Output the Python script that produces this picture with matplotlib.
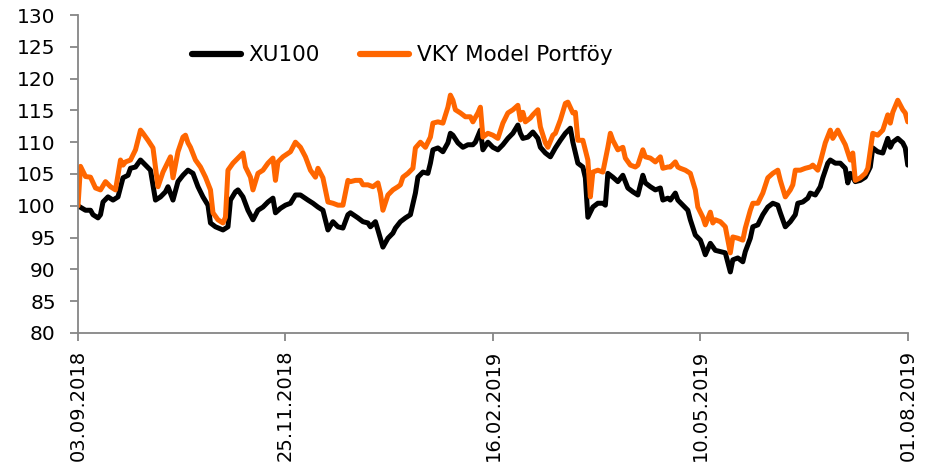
import datetime as dt
import matplotlib
matplotlib.use("Agg")
import matplotlib.pyplot as plt

start_date = dt.date(2018, 9, 3)
tick_dates = ["03.09.2018", "25.11.2018", "16.02.2019", "10.05.2019", "01.08.2019"]
y_ticks = [80, 85, 90, 95, 100, 105, 110, 115, 120, 125, 130]

# XU100 (days since 03.09.2018, index value)
xu_days = [0, 3, 5, 6, 8, 9, 10, 12, 14, 16, 18, 20, 21, 23, 25, 27, 29, 31, 33, 35,
           36, 38, 40, 42, 44, 46, 48, 50, 52, 53, 55, 58, 60, 61, 63, 64, 66, 68, 70, 72,
           74, 76, 78, 79, 81, 83, 85, 87, 89, 92, 94, 96, 98, 100, 102, 104, 106, 108, 109, 112,
           114, 116, 117, 119, 120, 122, 124, 126, 127, 129, 131, 133, 135, 136, 138, 140, 141, 142, 144, 146,
           148, 149, 150, 152, 154, 156, 158, 159, 161, 162, 164, 166, 168, 170, 172, 174, 176, 177, 178, 180,
           182, 184, 185, 187, 189, 191, 193, 195, 197, 198, 200, 202, 203, 204, 206, 208, 210, 211, 212, 214,
           216, 218, 220, 222, 224, 226, 227, 229, 231, 233, 234, 236, 237, 239, 240, 242, 244, 245, 247, 249,
           250, 251, 253, 255, 257, 259, 261, 262, 264, 266, 267, 269, 270, 272, 274, 276, 278, 280, 281, 283,
           285, 287, 288, 290, 292, 293, 295, 297, 298, 300, 301, 303, 305, 307, 308, 309, 311, 313, 315, 317,
           318, 320, 322, 324, 325, 326, 328, 330, 331, 332]
xu_vals = [100.0, 99.3, 99.3, 98.6, 98.1, 98.6, 100.6, 101.4, 100.9, 101.4, 104.4, 104.8, 105.9, 106.1, 107.2, 106.4, 105.6, 100.9, 101.4, 102.2,
           103.0, 100.9, 103.8, 104.8, 105.6, 105.1, 103.0, 101.4, 100.1, 97.3, 96.7, 96.2, 96.7, 100.9, 102.2, 102.5, 101.4, 99.3, 97.8, 99.3,
           99.8, 100.6, 101.2, 98.9, 99.6, 100.1, 100.4, 101.7, 101.7, 100.9, 100.4, 99.8, 99.3, 96.2, 97.5, 96.7, 96.5, 98.6, 98.9, 98.1,
           97.5, 97.3, 96.7, 97.5, 96.2, 93.5, 94.9, 95.7, 96.5, 97.5, 98.1, 98.6, 102.0, 104.5, 105.3, 105.1, 106.7, 108.8, 109.1, 108.5,
           109.9, 111.4, 111.1, 109.9, 109.2, 109.6, 109.6, 110.0, 111.9, 108.8, 110.0, 109.2, 108.8, 109.6, 110.6, 111.4, 112.7, 111.4, 110.6, 110.8,
           111.6, 110.6, 109.2, 108.3, 107.7, 109.1, 110.3, 111.4, 112.2, 110.0, 106.7, 106.1, 104.4, 98.2, 99.8, 100.4, 100.4, 100.1, 105.1, 104.5,
           103.8, 104.8, 102.8, 102.2, 101.7, 104.8, 103.6, 103.0, 102.5, 102.8, 100.9, 101.2, 100.9, 102.0, 100.9, 100.1, 99.3, 97.8, 95.4, 94.6,
           93.5, 92.3, 94.1, 93.0, 92.8, 92.6, 89.6, 91.5, 91.8, 91.2, 92.8, 94.9, 96.7, 97.0, 98.6, 99.8, 100.4, 100.1, 98.9, 96.7,
           97.5, 98.6, 100.4, 100.6, 101.2, 102.0, 101.7, 103.0, 104.4, 106.7, 107.2, 106.7, 106.7, 105.9, 103.6, 105.1, 103.8, 104.0, 104.5, 106.1,
           109.1, 108.5, 108.3, 110.6, 109.2, 110.0, 110.6, 109.9, 109.1, 106.4]

# VKY Model Portföy (days since 03.09.2018, index value)
vky_days = [0, 1, 3, 5, 7, 9, 11, 13, 15, 17, 18, 19, 21, 23, 25, 26, 28, 30, 32, 34,
            36, 37, 38, 40, 42, 43, 44, 45, 47, 49, 51, 53, 54, 56, 58, 59, 60, 62, 64, 66,
            67, 69, 70, 72, 74, 76, 78, 79, 80, 82, 85, 87, 89, 91, 93, 95, 96, 98, 100, 102,
            104, 106, 108, 109, 111, 113, 114, 116, 118, 120, 121, 122, 124, 126, 128, 129, 130, 132, 134, 135,
            137, 139, 141, 142, 144, 146, 148, 149, 150, 151, 153, 155, 157, 158, 160, 161, 162, 164, 166, 168,
            170, 172, 174, 176, 177, 178, 179, 181, 182, 184, 185, 187, 188, 190, 191, 193, 195, 196, 198, 199,
            200, 202, 204, 205, 206, 208, 210, 212, 213, 214, 216, 218, 219, 221, 223, 224, 226, 227, 229, 231,
            233, 234, 236, 237, 239, 240, 241, 243, 245, 247, 248, 250, 251, 253, 254, 255, 257, 259, 261, 262,
            264, 266, 267, 269, 270, 272, 274, 276, 278, 280, 281, 283, 285, 286, 287, 289, 291, 293, 294, 296,
            297, 299, 301, 302, 304, 305, 307, 309, 310, 311, 313, 315, 316, 318, 320, 322, 324, 325, 326, 328,
            330, 331, 332]
vky_vals = [100.0, 106.2, 104.6, 104.5, 102.8, 102.5, 103.8, 103.0, 102.5, 107.2, 106.4, 106.9, 107.2, 108.8, 111.9, 111.4, 110.3, 109.1, 103.0, 105.3,
            106.9, 107.7, 104.4, 108.5, 110.8, 111.1, 109.9, 109.2, 107.2, 106.1, 104.5, 102.5, 98.9, 97.8, 97.3, 98.2, 105.6, 106.7, 107.5, 108.3,
            106.1, 104.5, 102.5, 105.1, 105.6, 106.7, 107.5, 104.0, 106.9, 107.7, 108.5, 110.0, 109.2, 107.7, 105.6, 104.5, 105.9, 104.4, 100.6, 100.4,
            100.1, 100.1, 104.0, 103.8, 104.0, 104.0, 103.3, 103.3, 103.0, 103.6, 102.0, 99.3, 101.7, 102.5, 103.0, 103.3, 104.5, 105.1, 105.9, 109.1,
            110.0, 109.2, 110.8, 113.0, 113.2, 113.0, 115.5, 117.4, 116.6, 115.1, 114.6, 114.0, 114.0, 113.2, 114.6, 115.5, 110.8, 111.4, 111.1, 110.6,
            113.0, 114.6, 115.1, 115.8, 113.5, 114.7, 113.2, 113.8, 114.3, 115.1, 112.4, 109.9, 109.2, 111.1, 111.4, 113.5, 116.1, 116.3, 114.6, 114.7,
            110.3, 110.3, 107.2, 101.4, 105.3, 105.6, 105.3, 109.2, 111.4, 110.3, 108.8, 109.2, 107.5, 106.4, 106.1, 106.4, 108.8, 107.7, 107.5, 106.9,
            107.7, 105.9, 106.1, 106.1, 106.9, 106.1, 105.9, 105.6, 105.1, 102.5, 99.8, 98.2, 97.0, 99.0, 97.3, 97.8, 97.5, 96.7, 92.6, 95.1,
            94.9, 94.6, 96.5, 99.3, 100.4, 100.4, 102.0, 104.4, 105.1, 105.6, 104.0, 101.4, 102.5, 103.3, 105.6, 105.6, 105.9, 106.1, 106.4, 105.6,
            106.9, 109.9, 111.9, 110.6, 111.9, 111.1, 109.6, 107.2, 108.3, 104.0, 104.4, 105.1, 105.9, 111.4, 111.1, 111.9, 114.3, 113.0, 114.7, 116.6,
            115.1, 114.6, 113.2]

series_names = ["XU100", "VKY Model Portföy"]
series_colors = ["#000000", "#FF6600"]

def to_dates(days):
    return [start_date + dt.timedelta(days=d) for d in days]

plt.rcParams['font.family'] = ['DejaVu Sans']
fig = plt.figure(figsize=(9.32, 4.69), dpi=100)
ax = fig.add_axes([0.0837, 0.29, 0.8903, 0.678])

ax.plot(to_dates(xu_days), xu_vals, color=series_colors[0], lw=3.6,
        solid_joinstyle='round', solid_capstyle='round', label=series_names[0])
ax.plot(to_dates(vky_days), vky_vals, color=series_colors[1], lw=3.6,
        solid_joinstyle='round', solid_capstyle='round', label=series_names[1])

ticks = [dt.datetime.strptime(t, "%d.%m.%Y").date() for t in tick_dates]
ax.set_xticks(ticks)
ax.set_xticklabels(tick_dates, rotation=90, fontsize=14)
ax.set_xlim(ticks[0], ticks[-1] + dt.timedelta(days=0.8))

ax.set_ylim(80, 130)
ax.set_yticks(y_ticks)
ax.set_yticklabels([str(v) for v in y_ticks], fontsize=14.5)

grey = "#868686"
for s in ["top", "right"]:
    ax.spines[s].set_visible(False)
for s in ["left", "bottom"]:
    ax.spines[s].set_color(grey)
    ax.spines[s].set_linewidth(1.3)
ax.tick_params(axis='both', colors=grey, labelcolor='black', length=6, width=1.3, direction='out')
ax.tick_params(axis='y', pad=10)
ax.tick_params(axis='x', pad=6)

leg = ax.legend(loc='center left', bbox_to_anchor=(0.137, 0.874), ncol=2, frameon=False,
                fontsize=15.5, handlelength=2.3, handletextpad=0.35, columnspacing=1.85,
                borderaxespad=0, borderpad=0)
for h in leg.get_lines():
    h.set_linewidth(4.5)

fig.savefig("out.png", dpi=100)
